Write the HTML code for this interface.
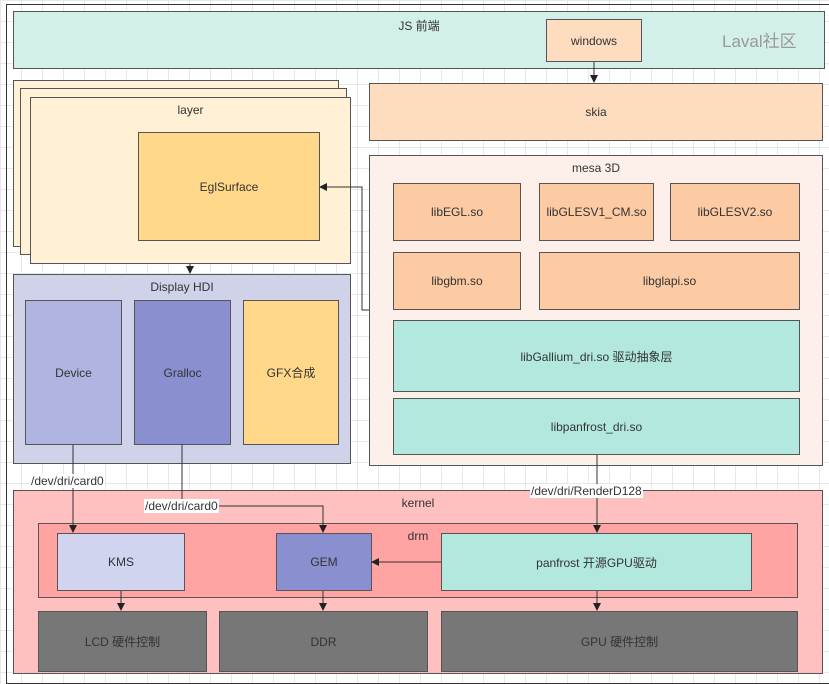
<!DOCTYPE html>
<html><head><meta charset="utf-8"><style>
body{margin:0;width:829px;height:681px;position:relative;overflow:hidden;font-family:"Liberation Sans","Noto Sans CJK SC",sans-serif;font-size:12px;color:#333;
background-color:#fff;background-image:linear-gradient(#e8e8e8 1px,transparent 1px),linear-gradient(90deg,#e8e8e8 1px,transparent 1px);background-size:21px 21px}
.b{position:absolute;box-sizing:border-box;border:1px solid #555;display:flex;align-items:center;justify-content:center;text-align:center}
.t{align-items:flex-start;padding-top:5px}
.l{position:absolute;background:#fff;font-size:12px;padding:0 1px;line-height:14px}
svg{position:absolute;left:0;top:0}
</style></head><body>
<div style="position:absolute;left:6px;top:4px;width:830px;height:680px;border:1px solid #333;box-sizing:border-box"></div>
<div class="b t" style="left:13px;top:11px;width:812px;height:58px;background:#d3efe9">JS 前端</div>
<div class="b" style="left:546px;top:19px;width:96px;height:43px;background:#fddcc0">windows</div>
<div style="position:absolute;left:722px;top:27px;font-size:17px;color:#999">Laval社区</div>

<div class="b" style="left:13px;top:80px;width:326px;height:167px;background:#fff0d6"></div>
<div class="b" style="left:20px;top:88px;width:327px;height:167px;background:#fff0d6"></div>
<div class="b t" style="left:30px;top:97px;width:321px;height:167px;background:#fff0d6"><span style="margin-left:0">layer</span></div>
<div class="b" style="left:138px;top:132px;width:182px;height:109px;background:#ffd88a">EglSurface</div>

<div class="b" style="left:369px;top:83px;width:454px;height:58px;background:#fddcc0">skia</div>
<div class="b t" style="left:369px;top:155px;width:454px;height:311px;background:#fdf0ea">mesa 3D</div>
<div class="b" style="left:393px;top:183px;width:128px;height:58px;background:#fccaa3">libEGL.so</div>
<div class="b" style="left:539px;top:183px;width:115px;height:58px;background:#fccaa3">libGLESV1_CM.so</div>
<div class="b" style="left:670px;top:183px;width:130px;height:58px;background:#fccaa3">libGLESV2.so</div>
<div class="b" style="left:393px;top:252px;width:128px;height:58px;background:#fccaa3">libgbm.so</div>
<div class="b" style="left:539px;top:252px;width:261px;height:58px;background:#fccaa3">libglapi.so</div>
<div class="b" style="left:393px;top:320px;width:407px;height:72px;background:#b3e8df">libGallium_dri.so 驱动抽象层</div>
<div class="b" style="left:393px;top:398px;width:407px;height:57px;background:#b3e8df">libpanfrost_dri.so</div>

<div class="b t" style="left:13px;top:274px;width:338px;height:190px;background:#d0d2ea">Display HDI</div>
<div class="b" style="left:25px;top:300px;width:97px;height:145px;background:#b0b4e0">Device</div>
<div class="b" style="left:134px;top:300px;width:97px;height:145px;background:#8a8fd0">Gralloc</div>
<div class="b" style="left:243px;top:300px;width:96px;height:145px;background:#ffd88a">GFX合成</div>

<div class="b t" style="left:13px;top:490px;width:810px;height:184px;background:#ffc0c0">kernel</div>
<div class="b t" style="left:38px;top:523px;width:760px;height:75px;background:#ffa3a3">drm</div>
<div class="b" style="left:57px;top:533px;width:128px;height:58px;background:#d0d4ef">KMS</div>
<div class="b" style="left:276px;top:533px;width:96px;height:58px;background:#8a8fd0">GEM</div>
<div class="b" style="left:441px;top:533px;width:311px;height:58px;background:#b3e8df">panfrost 开源GPU驱动</div>
<div class="b" style="left:38px;top:611px;width:169px;height:61px;background:#777">LCD 硬件控制</div>
<div class="b" style="left:219px;top:611px;width:209px;height:61px;background:#777">DDR</div>
<div class="b" style="left:441px;top:611px;width:357px;height:61px;background:#777">GPU 硬件控制</div>

<svg width="829" height="681">
<defs><marker id="a" markerWidth="8" markerHeight="8" refX="7" refY="4" orient="auto" markerUnits="userSpaceOnUse"><path d="M0,0L8,4L0,8z" fill="#222"/></marker></defs>
<g stroke="#333" fill="none" stroke-width="1">
<path d="M594,62V82" marker-end="url(#a)"/>
<path d="M190,264V273" marker-end="url(#a)"/>
<path d="M369,310H362V187H320" marker-end="url(#a)"/>
<path d="M73,445V532" marker-end="url(#a)"/>
<path d="M182,445V506H323V532" marker-end="url(#a)"/>
<path d="M597,455V532" marker-end="url(#a)"/>
<path d="M441,562H372" marker-end="url(#a)"/>
<path d="M121,591V610" marker-end="url(#a)"/>
<path d="M323,591V610" marker-end="url(#a)"/>
<path d="M597,591V610" marker-end="url(#a)"/>
</g></svg>
<div class="l" style="left:30px;top:474px">/dev/dri/card0</div>
<div class="l" style="left:144px;top:499px">/dev/dri/card0</div>
<div class="l" style="left:530px;top:484px">/dev/dri/RenderD128</div>
</body></html>
